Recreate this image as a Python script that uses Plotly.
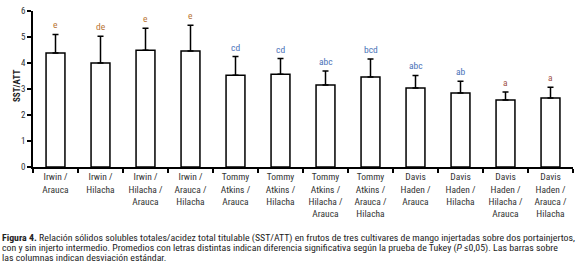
import plotly.graph_objects as go

categories = ["Irwin /<br>Arauca", "Irwin /<br>Hilacha", "Irwin /<br>Hilacha /<br>Arauca",
              "Irwin /<br>Arauca /<br>Hilacha", "Tommy<br>Atkins /<br>Arauca", "Tommy<br>Atkins /<br>Hilacha",
              "Tommy<br>Atkins /<br>Hilacha /<br>Arauca", "Tommy<br>Atkins /<br>Arauca /<br>Hilacha",
              "Davis<br>Haden /<br>Arauca", "Davis<br>Haden /<br>Hilacha",
              "Davis<br>Haden /<br>Hilacha /<br>Arauca", "Davis<br>Haden /<br>Arauca /<br>Hilacha"]
means = [4.38, 4.00, 4.49, 4.46, 3.53, 3.57, 3.15, 3.46, 3.04, 2.85, 2.58, 2.65]
sd = [0.72, 1.03, 0.85, 0.99, 0.72, 0.60, 0.54, 0.69, 0.48, 0.45, 0.30, 0.42]
letters = ["e", "de", "e", "e", "cd", "cd", "abc", "bcd", "abc", "ab", "a", "a"]
letter_colors = ["#b87333", "#b87333", "#b87333", "#b87333", "#4a72b8", "#4a72b8",
                 "#4a72b8", "#4a72b8", "#4a72b8", "#4a72b8", "#a0504a", "#a0504a"]
y_ticks = [0, 1, 2, 3, 4, 5, 6]
caption_lines = [
    "<b>Figura 4.</b> Relación sólidos solubles totales/acidez total titulable (SST/ATT) en frutos de tres cultivares de mango injertadas sobre dos portainjertos,",
    "con y sin injerto intermedio. Promedios con letras distintas indican diferencia significativa según la prueba de Tukey (<i>P</i> ≤0,05). Las barras sobre",
    "las columnas indican desviación estándar.",
]

FONT = "Liberation Sans Narrow, Arial Narrow, Roboto Condensed, Liberation Sans, sans-serif"

W, H = 577, 267
ML, MR, MT, MB = 33, 4, 11, 100
PW, PH = W - ML - MR, H - MT - MB


def px_x(px):
    return (px - ML) / PW


def px_y(py):
    return (H - MB - py) / PH


fig = go.Figure()
fig.add_trace(go.Bar(
    x=categories, y=means,
    marker=dict(color="white", line=dict(color="black", width=1.5)),
    width=0.42,
    error_y=dict(type="data", array=sd, arrayminus=[0] * len(sd), symmetric=False,
                 color="black", thickness=1.5, width=3),
    showlegend=False,
))

for c, m, s, l, col in zip(categories, means, sd, letters, letter_colors):
    fig.add_annotation(x=c, y=m + s, text=l, showarrow=False, yanchor="bottom",
                       yshift=2, font=dict(family=FONT, size=9.5, color=col))

fig.add_annotation(xref="paper", yref="paper", x=px_x(10), y=px_y(86), text="<b>SST/ATT</b>",
                   textangle=-90, showarrow=False, font=dict(family=FONT, size=9, color="#222"))

for i, (line, yc) in enumerate(zip(caption_lines, [238, 247.5, 257])):
    fig.add_annotation(xref="paper", yref="paper", x=px_x(1), y=px_y(yc), xanchor="left",
                       yanchor="middle", align="left", text=line, showarrow=False,
                       borderpad=0, font=dict(family=FONT, size=9.85, color="#222"))

fig.update_layout(
    width=W, height=H,
    margin=dict(l=ML, r=MR, t=MT, b=MB, autoexpand=False),
    paper_bgcolor="white", plot_bgcolor="white",
    bargap=0.58,
    xaxis=dict(showline=True, linecolor="black", linewidth=1.5, ticks="outside", ticklen=4,
               tickwidth=1.5, tickcolor="black", tickson="boundaries", showgrid=False,
               automargin=False,
               tickfont=dict(family=FONT, size=9.5, color="#333"), tickangle=0),
    yaxis=dict(range=[0, 6], tickvals=y_ticks, showline=True, linecolor="black", linewidth=1.5,
               ticks="outside", ticklen=4, tickwidth=1.5, tickcolor="black", showgrid=False,
               automargin=False,
               zeroline=False, tickfont=dict(family=FONT, size=9, color="#333")),
)

fig.write_html("out.html", config={"displayModeBar": False},
               post_script="document.body.style.margin='0';document.body.style.overflow='hidden';")
